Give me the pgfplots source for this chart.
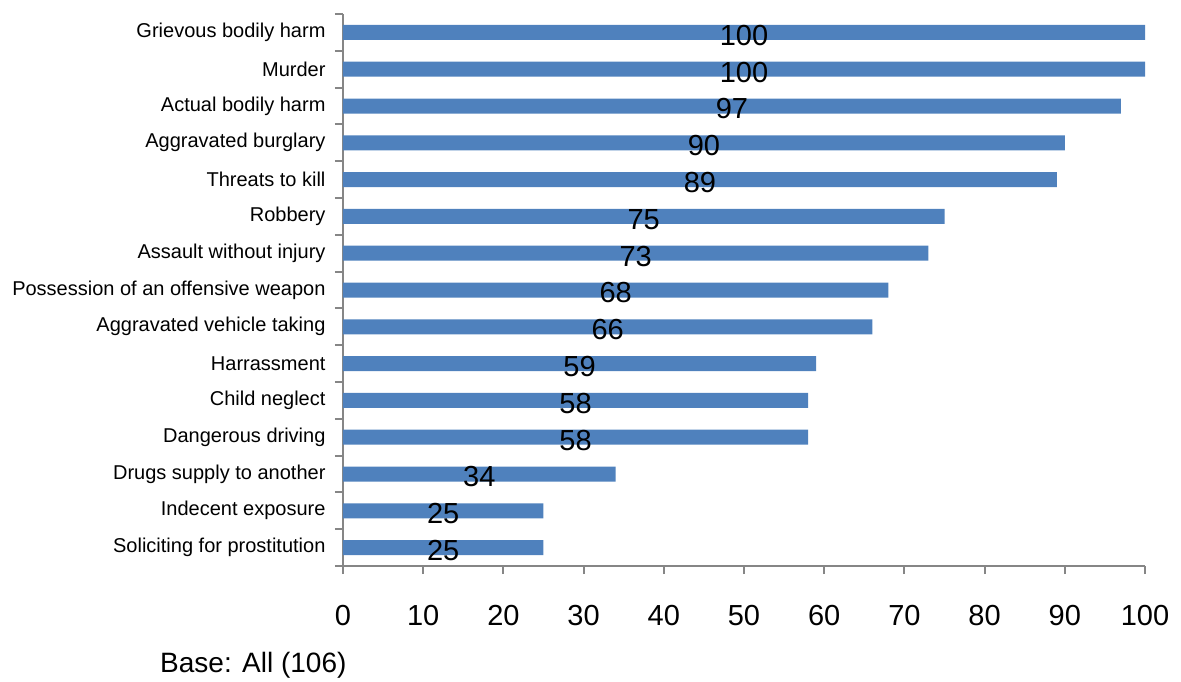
\documentclass[border=0pt]{standalone}
\usepackage{pgfplots}
\usepackage{pgfplotstable}
\pgfplotsset{compat=1.18}
\usepackage{fontspec}
\setmainfont{Liberation Sans}
\definecolor{barblue}{HTML}{4F81BD}
\definecolor{axgray}{HTML}{868686}
\pgfplotstableread{
y v
0 25
1 25
2 34
3 58
4 58
5 59
6 66
7 68
8 73
9 75
10 89
11 90
12 97
13 100
14 100
}\datatable
\begin{document}
\begin{tikzpicture}
\useasboundingbox (-343pt,-115pt) rectangle (838pt,566pt);
\begin{axis}[
  at={(0pt,0pt)}, anchor=south west,
  scale only axis, width=802pt, height=552pt,
  xmin=0, xmax=100, ymin=-0.5, ymax=14.5,
  clip=false,
  axis lines=left,
  axis line style={-, draw=axgray, line width=2pt},
  tick align=outside,
  major tick length=8pt,
  tick style={draw=axgray, line width=2pt},
  xtick={0,10,...,100},
  /pgf/number format/assume math mode=true,
  xticklabel style={font=\fontsize{29}{32}\selectfont, yshift=-28pt},
  ytick={-0.5,0.5,...,14.5},
  yticklabels={},
  extra y ticks={0,1,...,14},
  extra y tick labels={Soliciting for prostitution, Indecent exposure, Drugs supply to another, Dangerous driving, Child neglect, Harrassment, Aggravated vehicle taking, Possession of an offensive weapon, Assault without injury, Robbery, Threats to kill, Aggravated burglary, Actual bodily harm, Murder, Grievous bodily harm},
  extra y tick style={major tick length=0pt, tick style={draw=none}},
  yticklabel style={font=\fontsize{20}{24}\selectfont, xshift=-14pt},
]
\addplot[xbar, fill=barblue, draw=none, bar width=15pt] table[x=v, y=y]{\datatable};
\addplot[draw=none, nodes near coords, point meta=explicit symbolic,
  nodes near coords align={center},
  every node near coord/.append style={anchor=center, yshift=-3pt, font=\fontsize{29}{32}\selectfont, text=black}]
  table[x expr=\thisrow{v}/2, y=y, meta=v]{\datatable};
\end{axis}
\node[anchor=west, font=\fontsize{28}{32}\selectfont, inner sep=0pt] at (-183pt,-99pt) {Base: All (106)};
\end{tikzpicture}
\end{document}
